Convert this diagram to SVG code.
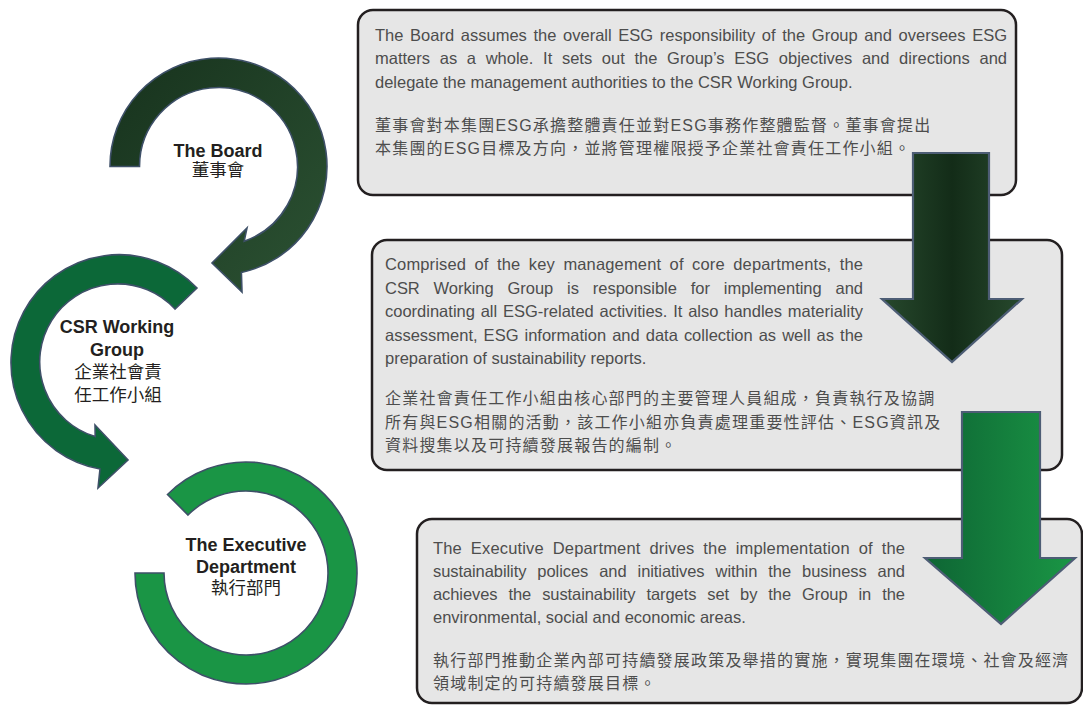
<svg xmlns="http://www.w3.org/2000/svg" width="1083" height="706" viewBox="0 0 1083 706">
<style>
.box{fill:#e6e6e6;stroke:#231f20;stroke-width:2.5}
.en{font-family:"Liberation Sans","Noto Sans CJK TC",sans-serif;font-size:16.5px;fill:#4d4d4d}
.zh{font-family:"Liberation Sans","Noto Sans CJK TC",sans-serif;font-size:16px;fill:#4d4d4d;letter-spacing:1.2px}
.lb{font-family:"Liberation Sans","Noto Sans CJK TC",sans-serif;font-size:18px;font-weight:bold;fill:#231f20;text-anchor:middle}
.lz{font-family:"Liberation Sans","Noto Sans CJK TC",sans-serif;font-size:17.5px;fill:#231f20;text-anchor:middle}
.ring{stroke:#3e5068;stroke-width:1.6;stroke-linejoin:miter}
.arw{stroke:#4d5d75;stroke-width:2.2;stroke-linejoin:miter}
</style>
<defs>
<linearGradient id="g1" x1="0" y1="0" x2="1" y2="1">
<stop offset="0" stop-color="#17321d"/><stop offset="1" stop-color="#2c5233"/>
</linearGradient>
<linearGradient id="ga1" x1="0" y1="0" x2="1" y2="0">
<stop offset="0" stop-color="#27492d"/><stop offset="0.5" stop-color="#132c18"/><stop offset="1" stop-color="#27492d"/>
</linearGradient>
<linearGradient id="ga2" x1="0" y1="0" x2="1" y2="0">
<stop offset="0" stop-color="#0e6534"/><stop offset="1" stop-color="#1a9645"/>
</linearGradient>
</defs>

<g id="node-board">
<path class="ring" fill="url(#g1)" d="M110 166.5 A108.5 108.5 0 1 1 241.4 272.5 L242 292 L212 263 L247 228 L244.2 241.2 A79 79 0 1 0 139.5 166.5 Z"/>
<text class="lb" x="218" y="157">The Board</text>
<text class="lz" x="218" y="176">董事會</text>
</g>

<g id="node-csr">
<path class="ring" fill="#0c6838" d="M197 288 A108 108 0 1 0 100 469 L98 488 L128 460 L95 425 L95.2 436.6 A78 78 0 1 1 175 309 Z"/>
<text class="lb" x="117" y="333">CSR Working</text>
<text class="lb" x="117" y="356">Group</text>
<text class="lz" x="118" y="378">企業社會責</text>
<text class="lz" x="118" y="401">任工作小組</text>
</g>

<g id="node-exec">
<path class="ring" fill="#1a9545" d="M135 573 A111 111 0 1 0 167.5 494.5 L188 515 A82 82 0 1 1 164 573 Z"/>
<text class="lb" x="246" y="551">The Executive</text>
<text class="lb" x="246" y="573">Department</text>
<text class="lz" x="246" y="594">執行部門</text>
</g>

<g id="box-board">
<rect class="box" x="358" y="10" width="658" height="185" rx="15"/>
<text class="en" x="375" y="40.5" word-spacing="2.07" textLength="632" lengthAdjust="spacing">The Board assumes the overall ESG responsibility of the Group and oversees ESG</text>
<text class="en" x="375" y="64" word-spacing="5.08" textLength="632" lengthAdjust="spacing">matters as a whole. It sets out the Group’s ESG objectives and directions and</text>
<text class="en" x="375" y="87.5">delegate the management authorities to the CSR Working Group.</text>
<text class="zh" x="375" y="131">董事會對本集團ESG承擔整體責任並對ESG事務作整體監督。董事會提出</text>
<text class="zh" x="375" y="154">本集團的ESG目標及方向，並將管理權限授予企業社會責任工作小組。</text>
</g>

<g id="box-csr">
<rect class="box" x="372" y="240" width="690" height="230" rx="15"/>
<text class="en" x="385" y="270" word-spacing="3.69" textLength="478" lengthAdjust="spacing">Comprised of the key management of core departments, the</text>
<text class="en" x="385" y="293.5" word-spacing="9.31" textLength="478" lengthAdjust="spacing">CSR Working Group is responsible for implementing and</text>
<text class="en" x="385" y="317" word-spacing="1.21" textLength="478" lengthAdjust="spacing">coordinating all ESG-related activities. It also handles materiality</text>
<text class="en" x="385" y="340.5" word-spacing="1.45" textLength="478" lengthAdjust="spacing">assessment, ESG information and data collection as well as the</text>
<text class="en" x="385" y="364">preparation of sustainability reports.</text>
<text class="zh" x="385" y="404">企業社會責任工作小組由核心部門的主要管理人員組成，負責執行及協調</text>
<text class="zh" x="385" y="427.5">所有與ESG相關的活動，該工作小組亦負責處理重要性評估、ESG資訊及</text>
<text class="zh" x="385" y="451">資料搜集以及可持續發展報告的編制。</text>
</g>

<g id="box-exec">
<rect class="box" x="417" y="519" width="665" height="184" rx="15"/>
<text class="en" x="433" y="553.5" word-spacing="4.2" textLength="472" lengthAdjust="spacing">The Executive Department drives the implementation of the</text>
<text class="en" x="433" y="576.5" word-spacing="6.56" textLength="472" lengthAdjust="spacing">sustainability polices and initiatives within the business and</text>
<text class="en" x="433" y="599.5" word-spacing="6.5" textLength="472" lengthAdjust="spacing">achieves the sustainability targets set by the Group in the</text>
<text class="en" x="433" y="622.5">environmental, social and economic areas.</text>
<text class="zh" x="433" y="666">執行部門推動企業內部可持續發展政策及舉措的實施，實現集團在環境、社會及經濟</text>
<text class="zh" x="433" y="689">領域制定的可持續發展目標。</text>
</g>

<g id="connectors">
<path class="arw" fill="url(#ga1)" d="M913 153 H989 V299 H1022 L952 362 L882 299 H913 Z"/>
<path class="arw" fill="url(#ga2)" d="M962 412 H1040 V558 H1075 L1001 624 L925 558 H962 Z"/>
</g>
</svg>
